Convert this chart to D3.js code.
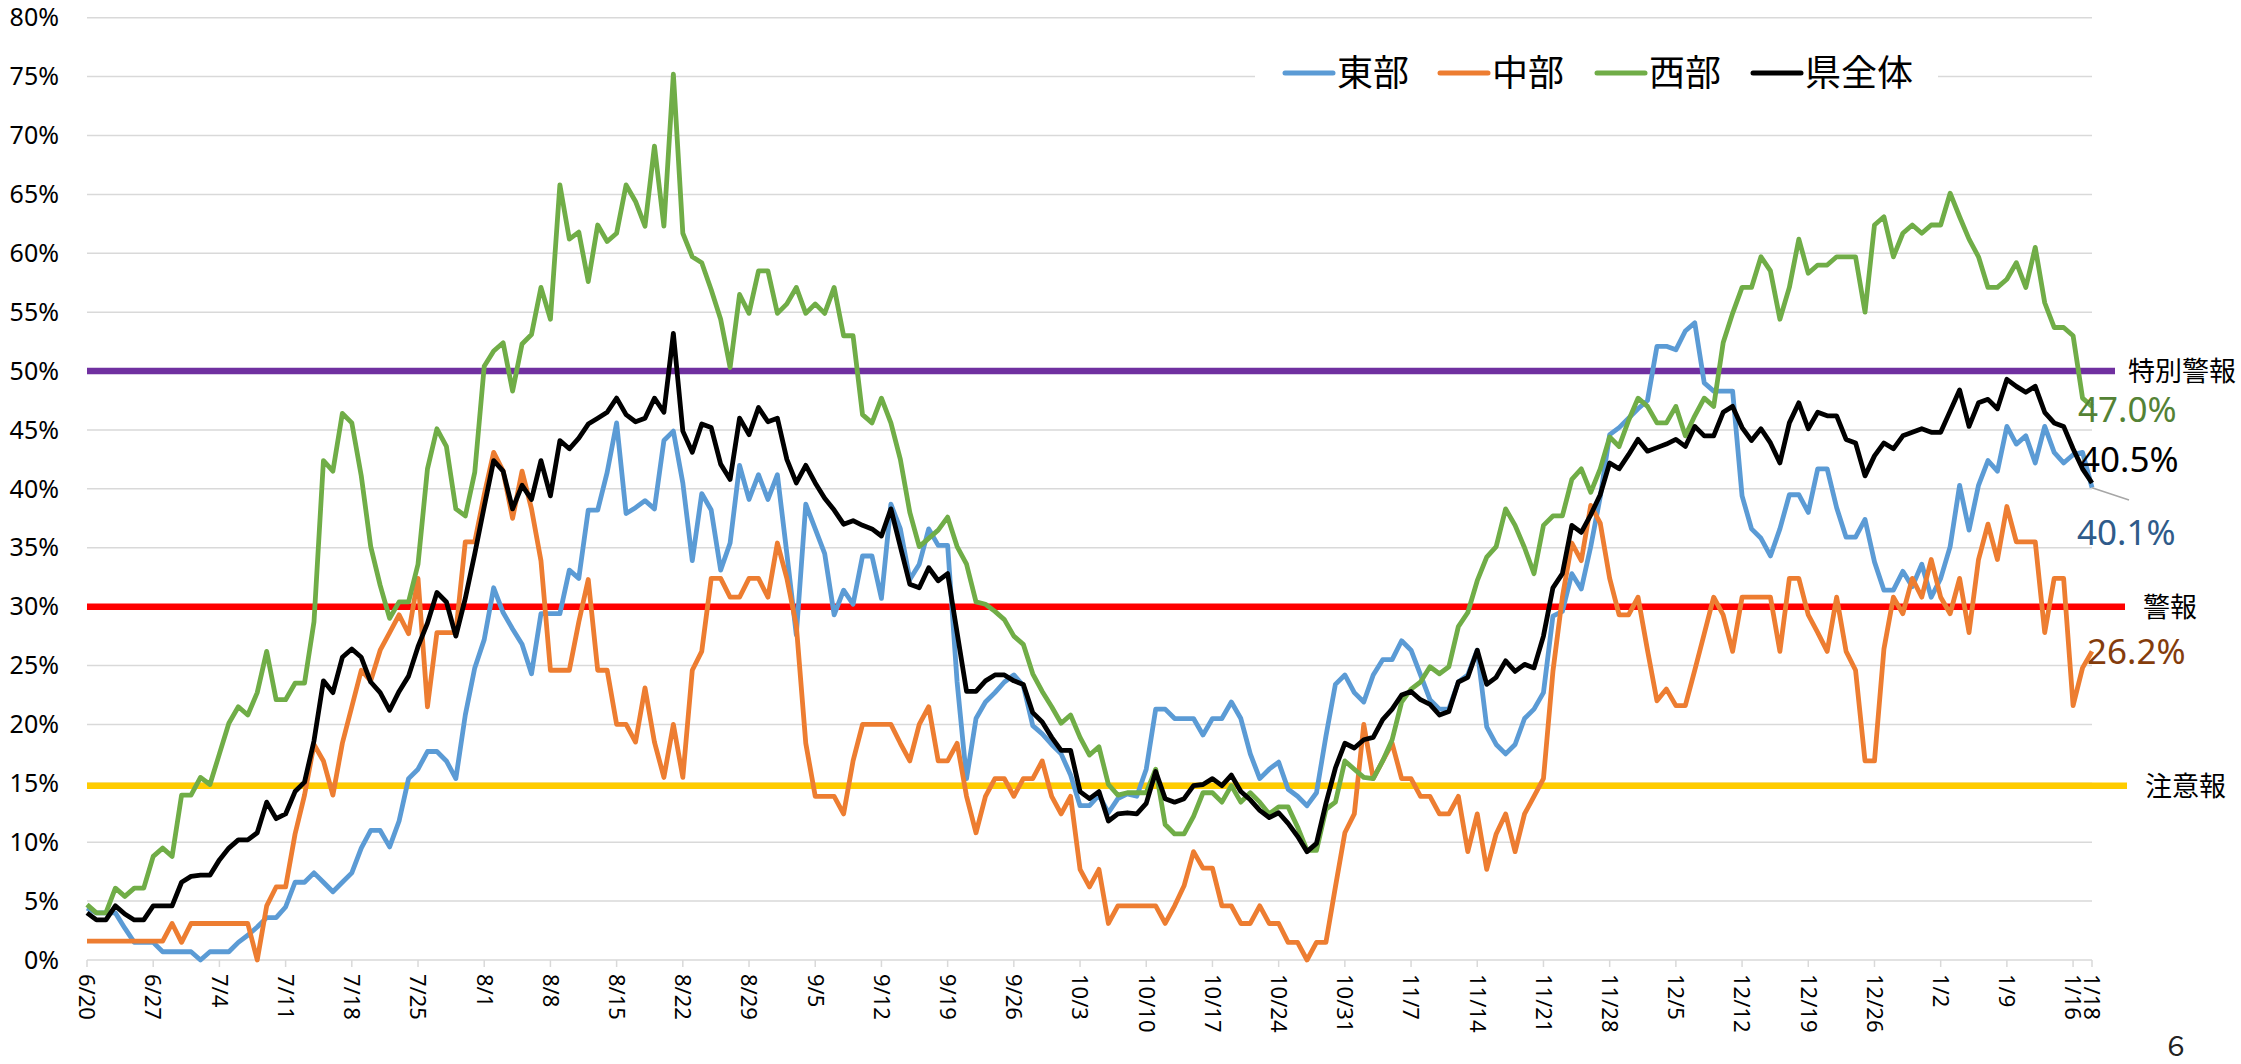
<!DOCTYPE html>
<html>
<head>
<meta charset="utf-8">
<script src="https://cdn.jsdelivr.net/npm/d3@7"></script>
<style>
    html, body { margin: 0; padding: 0; background: #fff; }
    #chart { width: 2241px; height: 1064px; }
</style>
</head>
<body>
<div id="chart"></div>
<script>
// day index 0 = 6/20, 212 = 1/18
const tickLabels = ['6/20', '6/27', '7/4', '7/11', '7/18', '7/25', '8/1', '8/8', '8/15', '8/22', '8/29',
    '9/5', '9/12', '9/19', '9/26', '10/3', '10/10', '10/17', '10/24', '10/31', '11/7', '11/14',
    '11/21', '11/28', '12/5', '12/12', '12/19', '12/26', '1/2', '1/9', '1/16', '1/18'];
const tickDays = [0, 7, 14, 21, 28, 35, 42, 49, 56, 63, 70, 77, 84, 91, 98, 105, 112, 119, 126, 133,
    140, 147, 154, 161, 168, 175, 182, 189, 196, 203, 210, 212];
const yTicks = [0, 5, 10, 15, 20, 25, 30, 35, 40, 45, 50, 55, 60, 65, 70, 75, 80];

const east = [
    4.4, 4.0, 4.0, 4.0, 2.7, 1.5, 1.5, 1.5, 0.7, 0.7,
    0.7, 0.7, 0, 0.7, 0.7, 0.7, 1.5, 2.1, 2.8, 3.6,
    3.6, 4.5, 6.6, 6.6, 7.4, 6.6, 5.8, 6.6, 7.4, 9.5,
    11, 11, 9.6, 11.8, 15.4, 16.2, 17.7, 17.7, 16.9, 15.4,
    20.8, 24.8, 27.2, 31.6, 29.5, 28.1, 26.8, 24.3, 29.4, 29.4,
    29.4, 33.1, 32.4, 38.2, 38.2, 41.4, 45.6, 37.9, 38.4, 39,
    38.3, 44.1, 44.9, 40.5, 33.9, 39.6, 38.2, 33.1, 35.4, 42,
    39.1, 41.2, 39.1, 41.2, 34.5, 27.6, 38.7, 36.6, 34.5, 29.3,
    31.4, 30.2, 34.3, 34.3, 30.7, 38.7, 36.6, 32.3, 33.6, 36.6,
    35.2, 35.2, 23.6, 15.4, 20.5, 21.9, 22.7, 23.6, 24.2, 23.3,
    19.9, 19.2, 18.3, 17.5, 15.7, 13.1, 13.1, 14, 12.5, 13.7,
    14.1, 13.9, 16.2, 21.3, 21.3, 20.5, 20.5, 20.5, 19.1, 20.5,
    20.5, 21.9, 20.5, 17.5, 15.4, 16.2, 16.8, 14.5, 13.9, 13.1,
    14.2, 19, 23.4, 24.2, 22.7, 21.9, 24.2, 25.5, 25.5, 27.1,
    26.3, 24.2, 22.1, 21.3, 21.3, 23.6, 24.2, 26.3, 19.8, 18.3,
    17.5, 18.3, 20.5, 21.3, 22.7, 29.2, 29.6, 32.8, 31.5, 35.1,
    39.3, 44.6, 45.2, 46, 46.8, 47.5, 52.1, 52.1, 51.8, 53.4,
    54.1, 49, 48.3, 48.3, 48.3, 39.4, 36.6, 35.8, 34.3, 36.6,
    39.5, 39.5, 38, 41.7, 41.7, 38.4, 35.9, 35.9, 37.4, 33.8,
    31.4, 31.4, 33, 31.7, 33.6, 30.8, 32.4, 35.1, 40.3, 36.5,
    40.3, 42.4, 41.5, 45.3, 43.8, 44.5, 42.2, 45.3, 43.1, 42.2,
    42.9, 43.1, 40.1
];

const central = [
    1.6, 1.6, 1.6, 1.6, 1.6, 1.6, 1.6, 1.6, 1.6, 3.1,
    1.5, 3.1, 3.1, 3.1, 3.1, 3.1, 3.1, 3.1, 0, 4.6,
    6.2, 6.2, 10.7, 14, 18.3, 16.9, 14, 18.4, 21.5, 24.6,
    23.7, 26.3, 27.8, 29.3, 27.7, 32.4, 21.5, 27.8, 27.8, 27.8,
    35.5, 35.5, 39.5, 43.1, 41.5, 37.5, 41.5, 38.3, 33.9, 24.6,
    24.6, 24.6, 28.7, 32.3, 24.6, 24.6, 20, 20, 18.5, 23.1,
    18.5, 15.5, 20, 15.5, 24.6, 26.2, 32.4, 32.4, 30.8, 30.8,
    32.4, 32.4, 30.8, 35.4, 32.4, 28.4, 18.4, 13.9, 13.9, 13.9,
    12.4, 16.9, 20, 20, 20, 20, 18.4, 16.9, 20, 21.5,
    16.9, 16.9, 18.4, 13.9, 10.8, 13.9, 15.4, 15.4, 13.9, 15.4,
    15.4, 16.9, 13.9, 12.4, 13.9, 7.7, 6.2, 7.7, 3.1, 4.6,
    4.6, 4.6, 4.6, 4.6, 3.1, 4.6, 6.3, 9.2, 7.8, 7.8,
    4.6, 4.6, 3.1, 3.1, 4.6, 3.1, 3.1, 1.5, 1.5, 0,
    1.5, 1.5, 6.2, 10.8, 12.4, 20, 15.4, 16.9, 18.4, 15.4,
    15.4, 13.9, 13.9, 12.4, 12.4, 13.9, 9.2, 12.4, 7.7, 10.7,
    12.4, 9.2, 12.4, 13.9, 15.4, 24.5, 30.8, 35.4, 33.9, 38.6,
    37.1, 32.4, 29.3, 29.3, 30.8, 26.3, 22, 23, 21.6, 21.6,
    24.6, 27.7, 30.8, 29.3, 26.2, 30.8, 30.8, 30.8, 30.8, 26.2,
    32.4, 32.4, 29.3, 27.8, 26.2, 30.8, 26.2, 24.6, 16.9, 16.9,
    26.4, 30.8, 29.4, 32.4, 30.8, 34, 30.8, 29.4, 32.4, 27.8,
    34, 37, 34, 38.5, 35.5, 35.5, 35.5, 27.8, 32.4, 32.4,
    21.6, 24.8, 26.2
];

const west = [
    4.7, 4.0, 4.0, 6.1, 5.4, 6.1, 6.1, 8.8, 9.5, 8.8,
    14, 14, 15.5, 14.9, 17.5, 20.1, 21.5, 20.8, 22.7, 26.2,
    22.1, 22.1, 23.5, 23.5, 28.7, 42.4, 41.5, 46.4, 45.6, 41.1,
    35.1, 31.8, 29, 30.4, 30.4, 33.6, 41.7, 45.1, 43.6, 38.3,
    37.7, 41.4, 50.4, 51.7, 52.4, 48.3, 52.3, 53.1, 57.1, 54.4,
    65.8, 61.2, 61.8, 57.6, 62.4, 61, 61.7, 65.8, 64.4, 62.3,
    69.1, 62.3, 75.2, 61.7, 59.7, 59.2, 56.9, 54.4, 50.3, 56.5,
    54.9, 58.5, 58.5, 54.9, 55.7, 57.1, 54.9, 55.7, 54.9, 57.1,
    53, 53, 46.3, 45.6, 47.7, 45.6, 42.5, 38, 35.1, 35.8,
    36.5, 37.6, 35.1, 33.6, 30.4, 30.2, 29.6, 28.9, 27.5, 26.8,
    24.3, 22.8, 21.5, 20.1, 20.8, 18.9, 17.4, 18.1, 14.9, 14,
    14.2, 14.2, 14.2, 16.2, 11.5, 10.7, 10.7, 12.2, 14.2, 14.2,
    13.4, 14.8, 13.4, 14.2, 13.4, 12.4, 13, 13, 11.3, 9.3,
    9.3, 12.8, 13.4, 16.9, 16.2, 15.5, 15.4, 16.9, 18.7, 21.9,
    23, 23.6, 24.9, 24.3, 24.9, 28.3, 29.5, 32.2, 34.2, 35.1,
    38.3, 36.9, 35, 32.8, 36.9, 37.7, 37.7, 40.8, 41.7, 39.7,
    41.7, 44.4, 43.6, 45.8, 47.7, 47, 45.6, 45.6, 47, 44.5,
    46.2, 47.7, 47, 52.4, 54.9, 57.1, 57.1, 59.7, 58.5, 54.4,
    57.1, 61.2, 58.3, 59, 59, 59.7, 59.7, 59.7, 55, 62.4,
    63.1, 59.7, 61.7, 62.4, 61.7, 62.4, 62.4, 65.1, 63.1, 61.2,
    59.7, 57.1, 57.1, 57.8, 59.2, 57.1, 60.5, 55.8, 53.7, 53.7,
    53, 47.7, 47.0
];

const prefecture = [
    4.0, 3.4, 3.4, 4.6, 3.9, 3.4, 3.4, 4.6, 4.6, 4.6,
    6.6, 7.1, 7.2, 7.2, 8.5, 9.5, 10.2, 10.2, 10.8, 13.4,
    12, 12.4, 14.3, 15.1, 18.6, 23.7, 22.7, 25.7, 26.4, 25.7,
    23.6, 22.7, 21.2, 22.8, 24.1, 26.6, 28.6, 31.2, 30.4, 27.5,
    30.7, 34.5, 38.5, 42.4, 41.5, 38.3, 40.3, 39.1, 42.4, 39.4,
    44.1, 43.4, 44.3, 45.5, 46, 46.5, 47.7, 46.3, 45.7, 46,
    47.7, 46.5, 53.2, 44.9, 43.1, 45.5, 45.2, 42.1, 40.8, 46,
    44.6, 46.9, 45.7, 46, 42.5, 40.5, 42, 40.5, 39.2, 38.2,
    37, 37.3, 36.9, 36.6, 36, 38.3, 35.1, 31.9, 31.6, 33.3,
    32.2, 32.8, 27.8, 22.8, 22.8, 23.7, 24.2, 24.2, 23.7, 23.4,
    21, 20.2, 18.9, 17.8, 17.8, 14.3, 13.7, 14.3, 11.8, 12.4,
    12.5, 12.4, 13.3, 16, 13.7, 13.4, 13.7, 14.8, 14.9, 15.4,
    14.8, 15.7, 14.3, 13.6, 12.7, 12.1, 12.5, 11.6, 10.5, 9.2,
    9.9, 13.3, 16.3, 18.4, 18, 18.7, 18.9, 20.4, 21.3, 22.5,
    22.8, 22.1, 21.7, 20.8, 21.1, 23.6, 24, 26.3, 23.4, 24,
    25.4, 24.5, 25.1, 24.8, 27.5, 31.6, 32.8, 36.9, 36.3, 37.8,
    39.5, 42.2, 41.7, 42.9, 44.2, 43.2, 43.5, 43.8, 44.2, 43.6,
    45.3, 44.5, 44.5, 46.5, 47, 45.2, 44.1, 45.1, 43.9, 42.2,
    45.6, 47.3, 45.1, 46.5, 46.2, 46.2, 44.2, 43.9, 41.1, 42.8,
    43.9, 43.4, 44.5, 44.8, 45.1, 44.8, 44.8, 46.6, 48.4, 45.3,
    47.3, 47.6, 46.8, 49.3, 48.7, 48.2, 48.7, 46.5, 45.6, 45.3,
    43.4, 41.7, 40.5
];

const seriesNames = ['東部', '中部', '西部', '県全体'];
const seriesColors = ['#5B9BD5', '#ED7D31', '#70AD47', '#000000'];
const thresholdNames = ['特別警報', '警報', '注意報'];
const thresholdValues = [50, 30, 14.8];
const thresholdColors = ['#7030A0', '#FF0000', '#FFCC00'];
const endLabelColors = ['#2F5B8A', '#843C0C', '#548235', '#000000'];

let series = [east, central, west, prefecture].map(function(values, i) {
    return { name: seriesNames[i], color: seriesColors[i], values: values };
});

let width = 2241;
let height = 1064;
let plotLeft = 87, plotRight = 2092, plotTop = 17.7, plotBottom = 960;

let x = d3.scaleLinear().domain([0, east.length - 1]).range([plotLeft, plotRight]);
let y = d3.scaleLinear().domain([0, 80]).range([plotBottom, plotTop]);

let svg = d3.select('#chart')
    .append('svg')
    .attr('width', width)
    .attr('height', height)
    .style('font-family', '"Noto Sans", "Noto Sans CJK JP", sans-serif');

// gridlines
svg.append('g')
    .selectAll('line')
    .data(yTicks)
    .enter()
    .append('line')
    .attr('x1', plotLeft)
    .attr('x2', plotRight)
    .attr('y1', function(d) { return y(d); })
    .attr('y2', function(d) { return y(d); })
    .attr('stroke', '#D9D9D9')
    .attr('stroke-width', 1.5);

// y axis labels
svg.append('g')
    .selectAll('text')
    .data(yTicks)
    .enter()
    .append('text')
    .attr('x', 59)
    .attr('y', function(d) { return y(d); })
    .attr('dy', '0.35em')
    .attr('text-anchor', 'end')
    .attr('font-size', 25)
    .attr('fill', '#000')
    .text(function(d) { return d + '%'; });

// x axis ticks and rotated labels
let xTick = svg.append('g')
    .selectAll('g')
    .data(tickDays)
    .enter()
    .append('g')
    .attr('transform', function(d) { return 'translate(' + x(d) + ',' + plotBottom + ')'; });

xTick.append('line')
    .attr('y1', 0)
    .attr('y2', 7)
    .attr('stroke', '#D9D9D9')
    .attr('stroke-width', 1.5);

xTick.append('text')
    .attr('transform', 'translate(0,14) rotate(90)')
    .attr('dy', '0.35em')
    .attr('font-size', 22)
    .attr('fill', '#000')
    .text(function(d, i) { return tickLabels[i]; });

// threshold lines + their names on the right
let thresholdEnds = [2115, 2125, 2127];
let thresholdLabelX = [2128, 2143, 2145];
svg.append('g')
    .selectAll('line')
    .data(thresholdValues)
    .enter()
    .append('line')
    .attr('x1', plotLeft)
    .attr('x2', function(d, i) { return thresholdEnds[i]; })
    .attr('y1', function(d) { return y(d); })
    .attr('y2', function(d) { return y(d); })
    .attr('stroke', function(d, i) { return thresholdColors[i]; })
    .attr('stroke-width', 6.5);

svg.append('g')
    .selectAll('text')
    .data(thresholdValues)
    .enter()
    .append('text')
    .attr('x', function(d, i) { return thresholdLabelX[i]; })
    .attr('y', function(d) { return y(d); })
    .attr('dy', '0.38em')
    .attr('font-size', 27)
    .attr('font-family', '"Noto Sans CJK JP", sans-serif')
    .attr('fill', '#000')
    .text(function(d, i) { return thresholdNames[i]; });

// series lines
let line = d3.line()
    .x(function(d, i) { return x(i); })
    .y(function(d) { return y(d); });

svg.append('g')
    .selectAll('path')
    .data(series)
    .enter()
    .append('path')
    .attr('d', function(d) { return line(d.values); })
    .attr('fill', 'none')
    .attr('stroke', function(d) { return d.color; })
    .attr('stroke-width', 4.8)
    .attr('stroke-linejoin', 'round');

// last value labels
let last = east.length - 1;
let endLabelPos = [[2077, 545], [2087, 664], [2078, 422], [2080, 472]];
svg.append('line')
    .attr('x1', x(last))
    .attr('y1', y(east[last]))
    .attr('x2', 2129)
    .attr('y2', 500)
    .attr('stroke', '#A6A6A6')
    .attr('stroke-width', 1.5);

svg.append('g')
    .selectAll('text')
    .data(series)
    .enter()
    .append('text')
    .attr('x', function(d, i) { return endLabelPos[i][0]; })
    .attr('y', function(d, i) { return endLabelPos[i][1]; })
    .attr('font-size', 35)
    .attr('fill', function(d, i) { return endLabelColors[i]; })
    .text(function(d) { return d.values[last].toFixed(1) + '%'; });

// legend
let legendX = [1285, 1440, 1597, 1753];
let legend = svg.append('g');
legend.append('rect')
    .attr('x', 1255)
    .attr('y', 45)
    .attr('width', 683)
    .attr('height', 60)
    .attr('fill', '#fff');

let legendItem = legend.selectAll('.legend')
    .data(series)
    .enter()
    .append('g')
    .attr('class', 'legend')
    .attr('transform', function(d, i) { return 'translate(' + legendX[i] + ',73)'; });

legendItem.append('line')
    .attr('x1', 0)
    .attr('x2', 48)
    .attr('stroke', function(d) { return d.color; })
    .attr('stroke-width', 5)
    .attr('stroke-linecap', 'round');

legendItem.append('text')
    .attr('x', 52)
    .attr('dy', '0.36em')
    .attr('font-size', 36)
    .attr('font-family', '"Noto Sans CJK JP", sans-serif')
    .attr('fill', '#000')
    .text(function(d) { return d.name; });

// page number
svg.append('text')
    .attr('x', 2176)
    .attr('y', 1047)
    .attr('dy', '0.35em')
    .attr('text-anchor', 'middle')
    .attr('font-size', 27)
    .attr('font-family', '"Noto Sans CJK JP", sans-serif')
    .attr('fill', '#222')
    .text('６');
</script>
</body>
</html>
